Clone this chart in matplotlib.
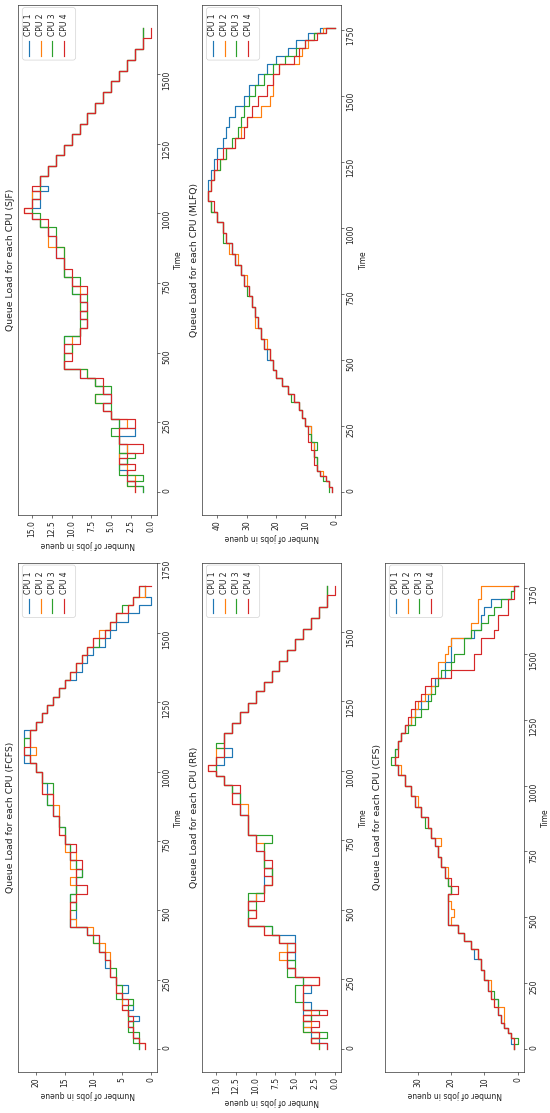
import matplotlib.pyplot as plt
from matplotlib.ticker import MultipleLocator
from matplotlib.patches import FancyBboxPatch

cpu_labels = ["CPU 1", "CPU 2", "CPU 3", "CPU 4"]
cpu_colors = ["#1f77b4", "#ff7f0e", "#2ca02c", "#d62728"]

# ---- FCFS ----
fcfs_time = [0, 20, 40, 60, 80, 100, 120, 140, 160, 180,
             200, 230, 260, 290, 320, 350, 380, 410, 440, 470,
             500, 530, 560, 590, 620, 650, 680, 710, 740, 770,
             800, 840, 880, 920, 960, 1000, 1030, 1060, 1090, 1120,
             1150, 1180, 1210, 1240, 1270, 1300, 1330, 1360, 1390, 1420,
             1450, 1480, 1510, 1540, 1570, 1600, 1630, 1670]
fcfs_cpu1 = [2, 2, 3, 3, 4, 2, 4, 3, 5, 5,
             4, 6, 7, 8, 8, 9, 9, 11, 14, 13,
             13, 14, 13, 13, 12, 13, 14, 14, 15, 15,
             16, 17, 18, 18, 19, 20, 22, 21, 21, 22,
             20, 19, 18, 17, 16, 15, 13, 12, 11, 10,
             8, 7, 6, 4, 2, 0, 1, 1]
fcfs_cpu2 = [1, 2, 3, 3, 3, 4, 4, 5, 5, 5,
             6, 6, 7, 7, 7, 8, 10, 10, 13, 14,
             14, 13, 13, 14, 13, 14, 13, 15, 15, 16,
             16, 16, 17, 19, 19, 20, 21, 20, 21, 21,
             20, 19, 18, 17, 16, 15, 14, 13, 12, 11,
             10, 9, 7, 6, 4, 3, 1, 1]
fcfs_cpu3 = [2, 3, 2, 4, 3, 4, 4, 4, 3, 6,
             5, 6, 6, 7, 8, 9, 10, 11, 14, 14,
             13, 14, 13, 13, 12, 13, 14, 14, 15, 15,
             16, 17, 18, 17, 19, 20, 21, 22, 22, 21,
             20, 19, 18, 17, 16, 15, 14, 13, 12, 11,
             9, 8, 7, 6, 5, 3, 2, 1]
fcfs_cpu4 = [1, 2, 3, 3, 4, 3, 4, 5, 4, 5,
             6, 6, 7, 7, 8, 9, 9, 11, 14, 14,
             14, 13, 11, 13, 13, 12, 14, 13, 15, 16,
             16, 17, 17, 19, 19, 20, 21, 22, 21, 21,
             20, 19, 18, 17, 16, 15, 14, 13, 12, 11,
             10, 8, 7, 6, 4, 3, 2, 0]

# ---- SJF ----
sjf_time = [0, 20, 40, 60, 80, 100, 120, 140, 170, 200,
            230, 260, 290, 320, 350, 380, 410, 440, 470, 500,
            530, 560, 590, 620, 650, 680, 710, 740, 770, 800,
            840, 880, 920, 950, 980, 1000, 1020, 1050, 1080, 1100,
            1135, 1170, 1210, 1245, 1285, 1320, 1360, 1395, 1435, 1475,
            1510, 1550, 1590, 1630, 1665]
sjf_cpu1 = [1, 2, 3, 3, 4, 3, 4, 3, 4, 2,
            4, 5, 6, 5, 6, 7, 9, 11, 11, 11,
            11, 9, 8, 9, 8, 9, 10, 10, 11, 11,
            12, 12, 13, 14, 15, 15, 14, 15, 13, 14,
            13, 12, 11, 10, 9, 8, 7, 6, 5, 4,
            3, 2, 1, 1, 1]
sjf_cpu2 = [2, 3, 2, 3, 3, 4, 4, 3, 4, 4,
            3, 5, 6, 7, 6, 7, 8, 11, 11, 10,
            10, 9, 8, 8, 9, 9, 9, 10, 11, 11,
            11, 13, 13, 14, 15, 16, 15, 15, 14, 14,
            13, 12, 11, 10, 9, 8, 7, 6, 5, 4,
            3, 2, 1, 1, 1]
sjf_cpu3 = [1, 3, 1, 4, 4, 3, 2, 4, 4, 5,
            4, 5, 5, 7, 5, 7, 8, 11, 11, 10,
            11, 9, 9, 8, 9, 8, 10, 9, 11, 11,
            11, 12, 12, 14, 14, 15, 15, 14, 14, 14,
            13, 12, 11, 10, 9, 8, 7, 6, 5, 4,
            3, 2, 1, 1, 1]
sjf_cpu4 = [2, 2, 3, 3, 2, 4, 3, 1, 4, 4,
            2, 5, 6, 5, 6, 6, 9, 11, 10, 11,
            9, 9, 8, 9, 8, 9, 8, 10, 10, 11,
            12, 12, 13, 13, 15, 16, 15, 14, 15, 14,
            13, 12, 11, 10, 9, 8, 7, 6, 5, 4,
            3, 2, 1, 0, 0]

# ---- RR ----
rr_time = [0, 20, 40, 60, 80, 100, 120, 140, 170, 200,
           230, 260, 290, 320, 350, 380, 410, 440, 470, 500,
           530, 560, 590, 620, 650, 680, 710, 740, 770, 800,
           840, 880, 920, 950, 980, 1000, 1020, 1050, 1080, 1100,
           1135, 1170, 1210, 1245, 1285, 1320, 1360, 1395, 1435, 1475,
           1510, 1550, 1590, 1630, 1665]
rr_cpu1 = [1, 2, 3, 3, 4, 3, 4, 3, 4, 3,
           4, 5, 6, 5, 6, 5, 8, 11, 11, 11,
           10, 9, 9, 8, 9, 9, 10, 10, 11, 11,
           12, 12, 13, 14, 15, 15, 14, 13, 14, 14,
           13, 12, 11, 10, 9, 8, 7, 6, 5, 4,
           3, 2, 1, 1, 1]
rr_cpu2 = [2, 3, 2, 4, 3, 4, 3, 4, 4, 4,
           2, 5, 6, 7, 6, 7, 9, 11, 10, 11,
           10, 9, 8, 8, 9, 9, 9, 10, 11, 11,
           11, 13, 13, 14, 15, 16, 15, 15, 14, 14,
           13, 12, 11, 10, 9, 8, 7, 6, 5, 4,
           3, 2, 1, 1, 1]
rr_cpu3 = [2, 3, 1, 4, 4, 3, 2, 4, 5, 5,
           4, 6, 5, 6, 5, 7, 8, 11, 11, 10,
           11, 9, 8, 8, 9, 9, 9, 8, 11, 11,
           12, 12, 13, 14, 15, 15, 15, 14, 15, 14,
           13, 12, 11, 10, 9, 8, 7, 6, 5, 4,
           3, 2, 1, 1, 1]
rr_cpu4 = [1, 3, 2, 3, 2, 4, 1, 4, 4, 4,
           2, 5, 6, 6, 5, 7, 9, 11, 10, 11,
           9, 9, 8, 9, 8, 9, 10, 10, 11, 11,
           12, 13, 12, 14, 15, 16, 15, 14, 14, 14,
           13, 12, 11, 10, 9, 8, 7, 6, 5, 4,
           3, 2, 1, 0, 0]

# ---- MLFQ ----
mlfq_time = [0, 20, 40, 60, 80, 100, 130, 160, 190,
             220, 250, 280, 310, 340, 370, 400, 430, 460,
             500, 540, 580, 620, 660, 700, 740, 780, 820,
             860, 900, 940, 980, 1020, 1060, 1100, 1140, 1180,
             1220, 1260, 1300, 1340, 1380, 1420, 1460, 1500, 1540,
             1580, 1620, 1650, 1680, 1710, 1735, 1755]
mlfq_cpu1 = [1, 2, 3, 5, 6, 6, 7, 7, 8, 8,
             10, 11, 12, 14, 16, 18, 20, 21, 23, 24,
             25, 26, 27, 28, 29, 31, 32, 34, 35, 37,
             38, 40, 42, 43,
             43, 42, 41, 40, 38, 37, 36, 34, 31, 29,
             26, 23, 20, 16, 13, 9, 5, 0]
mlfq_cpu2 = [1, 2, 3, 4, 6, 6, 7, 7, 8, 8,
             10, 11, 12, 14, 16, 18, 20, 21, 22, 23,
             25, 27, 27, 28, 29, 30, 32, 33, 36, 37,
             38, 40, 42, 43,
             42, 41, 39, 37, 34, 32, 30, 25, 22, 21,
             21, 19, 12, 11, 9, 7, 4, 0]
mlfq_cpu3 = [2, 2, 4, 5, 6, 6, 7, 6, 8, 9,
             10, 11, 12, 15, 16, 18, 20, 21, 22, 24,
             25, 26, 27, 28, 30, 31, 32, 34, 35, 38,
             38, 40, 42, 43,
             42, 41, 39, 37, 35, 33, 32, 31, 29, 27,
             24, 21, 17, 13, 10, 7, 3, 0]
mlfq_cpu4 = [1, 2, 3, 5, 6, 7, 7, 8, 9, 9,
             10, 11, 12, 14, 16, 18, 20, 21, 22, 24,
             25, 26, 27, 28, 29, 31, 32, 34, 35, 37,
             38, 40, 41, 43,
             42, 41, 40, 38, 34, 31, 30, 28, 26, 23,
             21, 19, 14, 12, 10, 6, 3, 0]

# ---- CFS ----
cfs_time = [0, 20, 40, 60, 80, 100, 130, 160, 190, 220,
            260, 300, 340, 380, 410, 440, 470, 500, 530, 560,
            590, 620, 650, 690, 730, 770, 800, 840, 880, 920,
            960, 1000, 1040, 1080, 1110, 1140, 1170, 1200, 1230, 1260,
            1290, 1320, 1350, 1380, 1410, 1440, 1470, 1500, 1530, 1560,
            1590, 1620, 1650, 1680, 1710, 1740, 1760]
cfs_cpu1 = [1, 2, 2, 3, 4, 5, 6, 6, 8, 9,
            10, 11, 13, 14, 16, 18, 21, 21, 21, 21,
            20, 21, 22, 23, 24, 25, 26, 27, 29, 31,
            32, 34, 36, 37, 37, 36, 35, 34, 32, 31,
            29, 27, 26, 25, 22, 22, 20, 20, 20, 13,
            11, 11, 10, 8, 2, 1, 0]
cfs_cpu2 = [1, 1, 2, 3, 4, 4, 4, 7, 8, 8,
            10, 11, 12, 14, 16, 18, 20, 19, 20, 21,
            20, 21, 21, 23, 24, 23, 26, 27, 29, 30,
            32, 34, 35, 37, 36, 36, 35, 34, 32, 31,
            30, 28, 26, 24, 24, 24, 22, 21, 20, 14,
            14, 12, 12, 12, 11, 11, 1]
cfs_cpu3 = [1, 0, 2, 3, 4, 5, 6, 6, 7, 9,
            10, 11, 12, 14, 16, 18, 21, 21, 21, 21,
            20, 21, 22, 23, 24, 25, 26, 28, 29, 31,
            32, 34, 36, 38, 37, 36, 35, 33, 31, 29,
            27, 26, 25, 24, 23, 20, 19, 16, 16, 14,
            11, 9, 7, 5, 2, 1, 0]
cfs_cpu4 = [1, 1, 2, 3, 4, 5, 6, 7, 8, 9,
            10, 11, 12, 14, 16, 18, 21, 21, 21, 21,
            18, 20, 22, 23, 24, 25, 26, 27, 29, 31,
            32, 34, 36, 37, 36, 36, 35, 34, 33, 32,
            31, 29, 28, 26, 20, 13, 13, 11, 11, 7,
            6, 6, 3, 3, 1, 1, 0]

fig = plt.figure(figsize=(5.5, 11.13), dpi=100)


def draw_legend(ax):
    # legend drawn by hand so it can sit sideways like the rest of the panel
    box = FancyBboxPatch((0.031, 0.892), 0.384, 0.103,
                         boxstyle="round,pad=0,rounding_size=0.02",
                         mutation_aspect=139 / 510,
                         transform=ax.transAxes, facecolor="white",
                         edgecolor="#cccccc", lw=0.5, alpha=0.85, zorder=5)
    ax.add_patch(box)
    for i, (lab, col) in enumerate(zip(cpu_labels, cpu_colors)):
        xp = 0.076 + 0.086 * i
        ax.text(xp, 0.939, lab, transform=ax.transAxes, rotation=90,
                ha="center", va="bottom", fontsize=5.5, color="#222222",
                zorder=6)
        ax.plot([xp, xp], [0.900, 0.929], transform=ax.transAxes,
                color=col, lw=0.85, zorder=6)


def draw_panel(rect, name, times, series, step):
    ax = fig.add_axes(rect)
    for vals, col, lab in zip(series, cpu_colors, cpu_labels):
        ax.plot(vals, times, color=col, lw=0.85, drawstyle="steps-pre",
                label=lab)
    ax.invert_xaxis()
    ax.xaxis.set_major_locator(MultipleLocator(step))
    ax.yaxis.set_major_locator(MultipleLocator(250))
    ax.yaxis.tick_right()
    ax.yaxis.set_label_position("right")
    ax.tick_params(axis="both", labelsize=5.5, length=2, width=0.45,
                   pad=1.8, colors="#222222")
    ax.tick_params(axis="x", labelrotation=90)
    ax.tick_params(axis="y", labelrotation=90)
    for sp in ax.spines.values():
        sp.set_linewidth(0.5)
        sp.set_color("#333333")
    ax.set_xlabel("Number of jobs in queue", fontsize=5.5, rotation=180,
                  labelpad=2.3, color="#222222")
    ax.set_ylabel("Time", fontsize=5.5, rotation=90, labelpad=2.3,
                  color="#222222")
    ax.annotate(f"Queue Load for each CPU ({name})", xy=(0, 0.5),
                xycoords="axes fraction", xytext=(-2.5, 0),
                textcoords="offset points", rotation=90, ha="right",
                va="center", fontsize=6.7, color="#222222")
    draw_legend(ax)
    return ax


draw_panel([0.0327, 0.5373, 0.2527, 0.4582], "SJF", sjf_time,
           [sjf_cpu1, sjf_cpu2, sjf_cpu3, sjf_cpu4], 2.5)
draw_panel([0.3673, 0.5373, 0.2527, 0.4582], "MLFQ", mlfq_time,
           [mlfq_cpu1, mlfq_cpu2, mlfq_cpu3, mlfq_cpu4], 10)
draw_panel([0.0327, 0.0368, 0.2527, 0.4578], "FCFS", fcfs_time,
           [fcfs_cpu1, fcfs_cpu2, fcfs_cpu3, fcfs_cpu4], 5)
draw_panel([0.3673, 0.0368, 0.2527, 0.4578], "RR", rr_time,
           [rr_cpu1, rr_cpu2, rr_cpu3, rr_cpu4], 2.5)
draw_panel([0.7000, 0.0368, 0.2527, 0.4578], "CFS", cfs_time,
           [cfs_cpu1, cfs_cpu2, cfs_cpu3, cfs_cpu4], 10)

fig.savefig("out.png", dpi=100)
